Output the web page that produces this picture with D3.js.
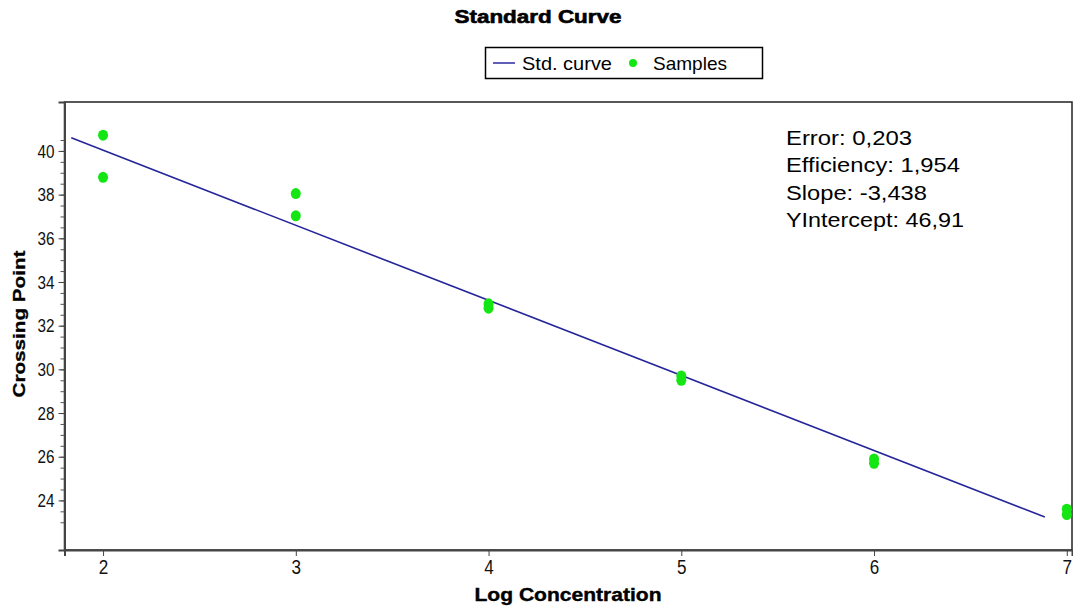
<!DOCTYPE html>
<html>
<head>
<meta charset="utf-8">
<script src="https://cdn.jsdelivr.net/npm/d3@7"></script>
<style>
  body { margin: 0; background: #fff; }
  svg { display: block; font-family: "Liberation Sans", Arial, sans-serif; }
</style>
</head>
<body>
<div id="app"></div>
<script>
// samples (log concentration, crossing point)
const sampleX = [2, 2, 3, 3, 4, 4, 5, 5, 6, 6, 7, 7];
const sampleY = [40.72, 38.79, 38.05, 37.03, 33.0, 32.8, 29.7, 29.5, 25.9, 25.7, 23.6, 23.35];

// std. curve end points
const curveX = [1.835, 6.886];
const curveY = [40.6, 23.24];

const xTicks = [2, 3, 4, 5, 6, 7];
const yTicks = [24, 26, 28, 30, 32, 34, 36, 38, 40];
const yMinorTicks = d3.range(23, 40.6, 0.5);

const statsLines = ["Error: 0,203", "Efficiency: 1,954", "Slope: -3,438", "YIntercept: 46,91"];
const statsWidths = [126, 174, 141, 178];

const w = 1073,
      h = 609;

const plotLeft = 64.5, plotRight = 1072, plotTop = 102, plotBottom = 550;

const svg = d3.select("#app")
    .append("svg")
    .attr("width", w)
    .attr("height", h);

const xScale = d3.scaleLinear()
    .domain([1.8, 7.027])
    .range([plotLeft, plotRight]);

const yScale = d3.scaleLinear()
    .domain([21.73, 42.24])
    .range([plotBottom, plotTop]);

// title
svg.append("text")
    .attr("x", 538)
    .attr("y", 23)
    .attr("text-anchor", "middle")
    .attr("font-size", 18)
    .attr("font-weight", "bold")
    .attr("stroke", "#000")
    .attr("stroke-width", 0.6)
    .attr("textLength", 167)
    .attr("lengthAdjust", "spacingAndGlyphs")
    .text("Standard Curve");

// legend
const legend = svg.append("g").attr("id", "legend");
legend.append("rect")
    .attr("x", 485.5)
    .attr("y", 47.5)
    .attr("width", 277)
    .attr("height", 31)
    .attr("fill", "none")
    .attr("stroke", "#000")
    .attr("stroke-width", 1.5);
legend.append("line")
    .attr("x1", 493).attr("x2", 515)
    .attr("y1", 63).attr("y2", 63)
    .attr("stroke", "#2a2aa0")
    .attr("stroke-width", 1.5);
legend.append("text")
    .attr("x", 522)
    .attr("y", 70)
    .attr("font-size", 19)
    .attr("textLength", 90)
    .attr("lengthAdjust", "spacingAndGlyphs")
    .text("Std. curve");
legend.append("path")
    .attr("d", d3.symbol(d3.symbolCircle, 50)())
    .attr("transform", "translate(633,63)")
    .attr("fill", "#14e614");
legend.append("text")
    .attr("x", 653)
    .attr("y", 70)
    .attr("font-size", 19)
    .attr("textLength", 74)
    .attr("lengthAdjust", "spacingAndGlyphs")
    .text("Samples");

// frame
svg.append("rect")
    .attr("x", plotLeft)
    .attr("y", plotTop)
    .attr("width", plotRight - plotLeft)
    .attr("height", plotBottom - plotTop)
    .attr("fill", "none")
    .attr("stroke", "#222")
    .attr("stroke-width", 1.5);

// y axis
const yAxis = d3.axisLeft(yScale)
    .tickValues(yTicks)
    .tickSize(6)
    .tickPadding(4)
    .tickFormat(d3.format("d"));

const yMinor = d3.axisLeft(yScale)
    .tickValues(yMinorTicks)
    .tickSize(4)
    .tickFormat("");

svg.append("g")
    .attr("transform", `translate(${plotLeft}, 0)`)
    .call(yMinor)
    .call(g => g.select(".domain").remove())
    .call(g => g.selectAll("line").attr("stroke", "#555"));

svg.append("g")
    .attr("id", "y-axis")
    .attr("transform", `translate(${plotLeft}, 0)`)
    .call(yAxis)
    .call(g => g.select(".domain").attr("stroke", "#444").attr("stroke-width", 2))
    .call(g => g.selectAll("line").attr("stroke", "#444"))
    .call(g => g.selectAll("text")
        .attr("font-size", 19)
        .attr("fill", "#111")
        .attr("font-family", "'Liberation Sans', Arial, sans-serif")
        .attr("textLength", d => String(d).length * 8.5)
        .attr("lengthAdjust", "spacingAndGlyphs"));

// x axis
const xAxis = d3.axisBottom(xScale)
    .tickValues(xTicks)
    .tickSize(6)
    .tickPadding(4)
    .tickFormat(d3.format("d"));

svg.append("g")
    .attr("id", "x-axis")
    .attr("transform", `translate(0, ${plotBottom})`)
    .call(xAxis)
    .call(g => g.select(".domain").attr("stroke", "#444").attr("stroke-width", 2))
    .call(g => g.selectAll("line").attr("stroke", "#444"))
    .call(g => g.selectAll("text")
        .attr("font-size", 20)
        .attr("fill", "#111")
        .attr("font-family", "'Liberation Sans', Arial, sans-serif")
        .attr("textLength", d => String(d).length * 9.5)
        .attr("lengthAdjust", "spacingAndGlyphs"));

// axis labels
svg.append("text")
    .attr("id", "x-label")
    .attr("text-anchor", "middle")
    .attr("x", 568)
    .attr("y", 601)
    .attr("font-size", 19)
    .attr("font-weight", "bold")
    .attr("stroke", "#000")
    .attr("stroke-width", 0.4)
    .attr("textLength", 187)
    .attr("lengthAdjust", "spacingAndGlyphs")
    .text("Log Concentration");

svg.append("text")
    .attr("id", "y-label")
    .attr("text-anchor", "middle")
    .attr("transform", "translate(25, 324) rotate(-90)")
    .attr("font-size", 17)
    .attr("font-weight", "bold")
    .attr("stroke", "#000")
    .attr("stroke-width", 0.3)
    .attr("textLength", 147)
    .attr("lengthAdjust", "spacingAndGlyphs")
    .text("Crossing Point");

// std. curve
const line = d3.line()
    .x(d => xScale(d[0]))
    .y(d => yScale(d[1]));

svg.append("path")
    .datum(d3.zip(curveX, curveY))
    .attr("d", line)
    .attr("fill", "none")
    .attr("stroke", "#25259a")
    .attr("stroke-width", 1.6);

// samples
svg.selectAll(".dot")
    .data(d3.zip(sampleX, sampleY))
    .enter()
    .append("ellipse")
    .classed("dot", true)
    .attr("cx", d => xScale(d[0]))
    .attr("cy", d => yScale(d[1]))
    .attr("rx", 5)
    .attr("ry", 5.5)
    .attr("fill", "#14e614");

// stats
svg.append("g")
    .selectAll("text")
    .data(statsLines)
    .enter()
    .append("text")
    .attr("x", 786)
    .attr("y", (d, i) => 145 + i * 27.4)
    .attr("font-size", 21)
    .attr("fill", "#000")
    .attr("textLength", (d, i) => statsWidths[i])
    .attr("lengthAdjust", "spacingAndGlyphs")
    .text(d => d);
</script>
</body>
</html>
